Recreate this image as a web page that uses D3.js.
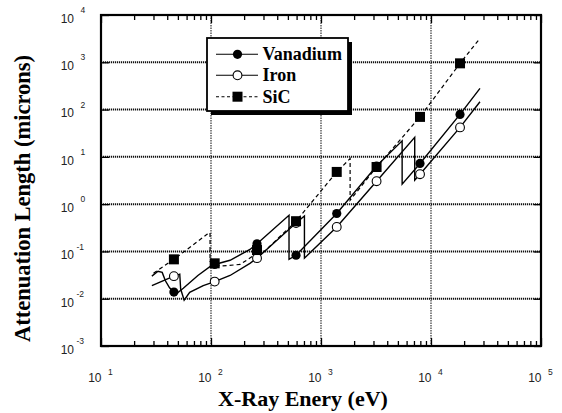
<!DOCTYPE html>
<html>
<head>
<meta charset="utf-8">
<script src="https://cdn.jsdelivr.net/npm/d3@7"></script>
<style>
  html, body { margin: 0; padding: 0; background: #fff; }
  svg { display: block; }
</style>
</head>
<body>
<svg id="chart" width="562" height="413"></svg>
<script>
// Attenuation length vs photon energy for V, Fe and SiC (log-log)

// Decade tick exponents
const xExponents = [1, 2, 3, 4, 5];
const yExponents = [-3, -2, -1, 0, 1, 2, 3, 4];

// Energies (eV) at which symbols are plotted
const markerEnergy = [46, 108, 262, 593, 1390, 3200, 7945, 18360];

// Symbol values (microns)
const vanadiumMarkers = [0.0138, 0.053, 0.145, 0.083, 0.634, 6.4, 7.26, 79];
const ironMarkers     = [0.030, 0.023, 0.072, 0.40, 0.33, 3.06, 4.3, 42];
const sicMarkers      = [0.068, 0.056, 0.107, 0.436, 4.8, 6.1, 70, 950];

// Continuous curves (repeated energy = absorption edge)
const vanadiumEnergy = [29, 33, 36, 38.5, 42, 46, 50, 56, 76, 102, 149, 226, 262, 512, 512, 593, 1390, 3200, 5465, 5465, 7945, 18360, 27880];
const vanadiumLength = [0.030, 0.038, 0.036, 0.024, 0.017, 0.0138, 0.0135, 0.0166, 0.031, 0.051, 0.065, 0.11, 0.145, 0.58, 0.068, 0.083, 0.634, 6.4, 21.8, 2.65, 7.26, 79, 280];

const ironEnergy = [29, 46, 52, 53, 57, 64, 85, 108, 149, 226, 262, 593, 707, 707, 1390, 3200, 7112, 7112, 7945, 18360, 27880];
const ironLength = [0.019, 0.030, 0.033, 0.016, 0.0093, 0.0137, 0.019, 0.023, 0.031, 0.056, 0.072, 0.40, 0.56, 0.072, 0.33, 3.06, 25.8, 3.2, 4.3, 42, 146];

const sicEnergy = [30, 46, 92, 98, 98, 108, 120, 184, 241, 262, 284, 284, 593, 1390, 1839, 1839, 3200, 7945, 18360, 27880];
const sicLength = [0.0346, 0.068, 0.23, 0.25, 0.062, 0.056, 0.049, 0.053, 0.08, 0.107, 0.125, 0.085, 0.436, 4.8, 9.2, 1.21, 6.1, 70, 950, 3210];

const legendNames = ["Vanadium", "Iron", "SiC"];

const svg = d3.select("#chart");
const plotLeft = 101, plotRight = 541, plotTop = 15, plotBottom = 346;

const x = d3.scaleLog().domain([10, 1e5]).range([plotLeft, plotRight]);
const y = d3.scaleLog().domain([1e-3, 1e4]).range([plotBottom, plotTop]);

const majorX = xExponents.map(e => Math.pow(10, e));
const majorY = yExponents.map(e => Math.pow(10, e));
const minorX = [];
for (let e = 1; e < 5; e++) for (let k = 2; k <= 9; k++) minorX.push(k * Math.pow(10, e));

// Grid lines
const grid = svg.append("g");
grid.selectAll("line.gy").data(majorY.slice(1, -1)).join("line")
  .attr("x1", plotLeft).attr("x2", plotRight)
  .attr("y1", d => y(d)).attr("y2", d => y(d))
  .attr("stroke", "#111").attr("stroke-width", 2).attr("stroke-dasharray", "1.2,0.8");
grid.selectAll("line.gx").data(majorX.slice(1, -1)).join("line")
  .attr("y1", plotTop).attr("y2", plotBottom)
  .attr("x1", d => x(d)).attr("x2", d => x(d))
  .attr("stroke", "#222").attr("stroke-width", 1.1).attr("stroke-dasharray", "1.5,1");

// Axes: ticks drawn inward on all four sides
function styleAxis(g) {
  g.select(".domain").remove();
  g.selectAll("text").remove();
  g.selectAll("line").attr("stroke", "#000").attr("stroke-width", 1.3);
}
svg.append("g").attr("transform", `translate(0,${plotBottom})`)
  .call(d3.axisBottom(x).tickValues(minorX).tickSize(-5).tickFormat("")).call(styleAxis);
svg.append("g").attr("transform", `translate(0,${plotBottom})`)
  .call(d3.axisBottom(x).tickValues(majorX).tickSize(-8).tickFormat("")).call(styleAxis);
svg.append("g").attr("transform", `translate(0,${plotTop})`)
  .call(d3.axisTop(x).tickValues(minorX).tickSize(-5).tickFormat("")).call(styleAxis);
svg.append("g").attr("transform", `translate(0,${plotTop})`)
  .call(d3.axisTop(x).tickValues(majorX).tickSize(-8).tickFormat("")).call(styleAxis);
svg.append("g").attr("transform", `translate(${plotLeft},0)`)
  .call(d3.axisLeft(y).tickValues(majorY).tickSize(-8).tickFormat("")).call(styleAxis);
svg.append("g").attr("transform", `translate(${plotRight},0)`)
  .call(d3.axisRight(y).tickValues(majorY).tickSize(-7).tickFormat("")).call(styleAxis);

// Frame
svg.append("rect").attr("x", plotLeft).attr("y", plotTop)
  .attr("width", plotRight - plotLeft).attr("height", plotBottom - plotTop)
  .attr("fill", "none").attr("stroke", "#000").attr("stroke-width", 2.2);

// Tick labels: 10 with raised exponent
const tickFont = "'Liberation Sans', Arial, sans-serif";
const yl = svg.append("g").attr("font-family", tickFont).attr("fill", "#222");
yExponents.forEach(e => {
  const ty = y(Math.pow(10, e));
  yl.append("text").attr("x", 74).attr("y", ty + 7.8).attr("text-anchor", "end")
    .attr("font-size", 12).text("10");
  yl.append("text").attr("x", e < 0 ? 76.5 : 80.5).attr("y", ty - 1.8)
    .attr("font-size", 8.5).text(String(e));
});
const xl = svg.append("g").attr("font-family", tickFont).attr("fill", "#222");
xExponents.forEach(e => {
  const tx = x(Math.pow(10, e));
  xl.append("text").attr("x", tx + 0.5).attr("y", 382.3).attr("text-anchor", "end")
    .attr("font-size", 12).text("10");
  xl.append("text").attr("x", tx + 7).attr("y", 374.6)
    .attr("font-size", 8.5).text(String(e));
});

// Axis titles
const titleFont = "'Liberation Serif', 'Times New Roman', serif";
svg.append("text").attr("x", 303).attr("y", 405.5).attr("text-anchor", "middle")
  .attr("font-family", titleFont).attr("font-weight", "bold").attr("font-size", 22)
  .text("X-Ray Enery (eV)");
svg.append("text").attr("transform", "translate(30,198.5) rotate(-90)")
  .attr("text-anchor", "middle")
  .attr("font-family", titleFont).attr("font-weight", "bold").attr("font-size", 22.5)
  .text("Attenuation Length (microns)");

// Curves
const line = d3.line().x(d => x(d[0])).y(d => y(d[1]));
const series = [
  { e: vanadiumEnergy, v: vanadiumLength, dash: null, w: 1.4 },
  { e: ironEnergy, v: ironLength, dash: null, w: 1.4 },
  { e: sicEnergy, v: sicLength, dash: "4,3", w: 1.2 }
];
series.forEach(s => {
  svg.append("path").datum(d3.zip(s.e, s.v)).attr("d", line)
    .attr("fill", "none").attr("stroke", "#000").attr("stroke-width", s.w)
    .attr("stroke-dasharray", s.dash);
});

// Symbols
function drawSymbol(g, kind, cx, cy) {
  if (kind === "square") {
    g.append("rect").attr("x", cx - 5).attr("y", cy - 5).attr("width", 10).attr("height", 10).attr("fill", "#000");
  } else if (kind === "filled") {
    g.append("circle").attr("cx", cx).attr("cy", cy).attr("r", 4.6).attr("fill", "#000");
  } else {
    g.append("circle").attr("cx", cx).attr("cy", cy).attr("r", 4.4).attr("fill", "#fff")
      .attr("stroke", "#000").attr("stroke-width", 1.1);
  }
}
const sym = svg.append("g");
markerEnergy.forEach((en, i) => drawSymbol(sym, "filled", x(en), y(vanadiumMarkers[i])));
markerEnergy.forEach((en, i) => drawSymbol(sym, "open", x(en), y(ironMarkers[i])));
markerEnergy.forEach((en, i) => drawSymbol(sym, "square", x(en), y(sicMarkers[i])));

// Legend
const lg = svg.append("g");
lg.append("rect").attr("x", 211).attr("y", 42).attr("width", 141).attr("height", 73).attr("fill", "#000");
lg.append("rect").attr("x", 207).attr("y", 38).attr("width", 141).attr("height", 73)
  .attr("fill", "#fff").attr("stroke", "#000").attr("stroke-width", 1.8);
const legendKinds = ["filled", "open", "square"];
const legendDash = [null, null, "3,2.5"];
[54.3, 75.3, 96.7].forEach((ry, i) => {
  lg.append("line").attr("x1", 216).attr("x2", 258).attr("y1", ry).attr("y2", ry)
    .attr("stroke", "#000").attr("stroke-width", 1.1).attr("stroke-dasharray", legendDash[i]);
  drawSymbol(lg, legendKinds[i], 237.5, ry);
  lg.append("text").attr("x", 262.5).attr("y", ry + 6)
    .attr("font-family", titleFont).attr("font-weight", "bold").attr("font-size", 18)
    .text(legendNames[i]);
});
</script>
</body>
</html>
